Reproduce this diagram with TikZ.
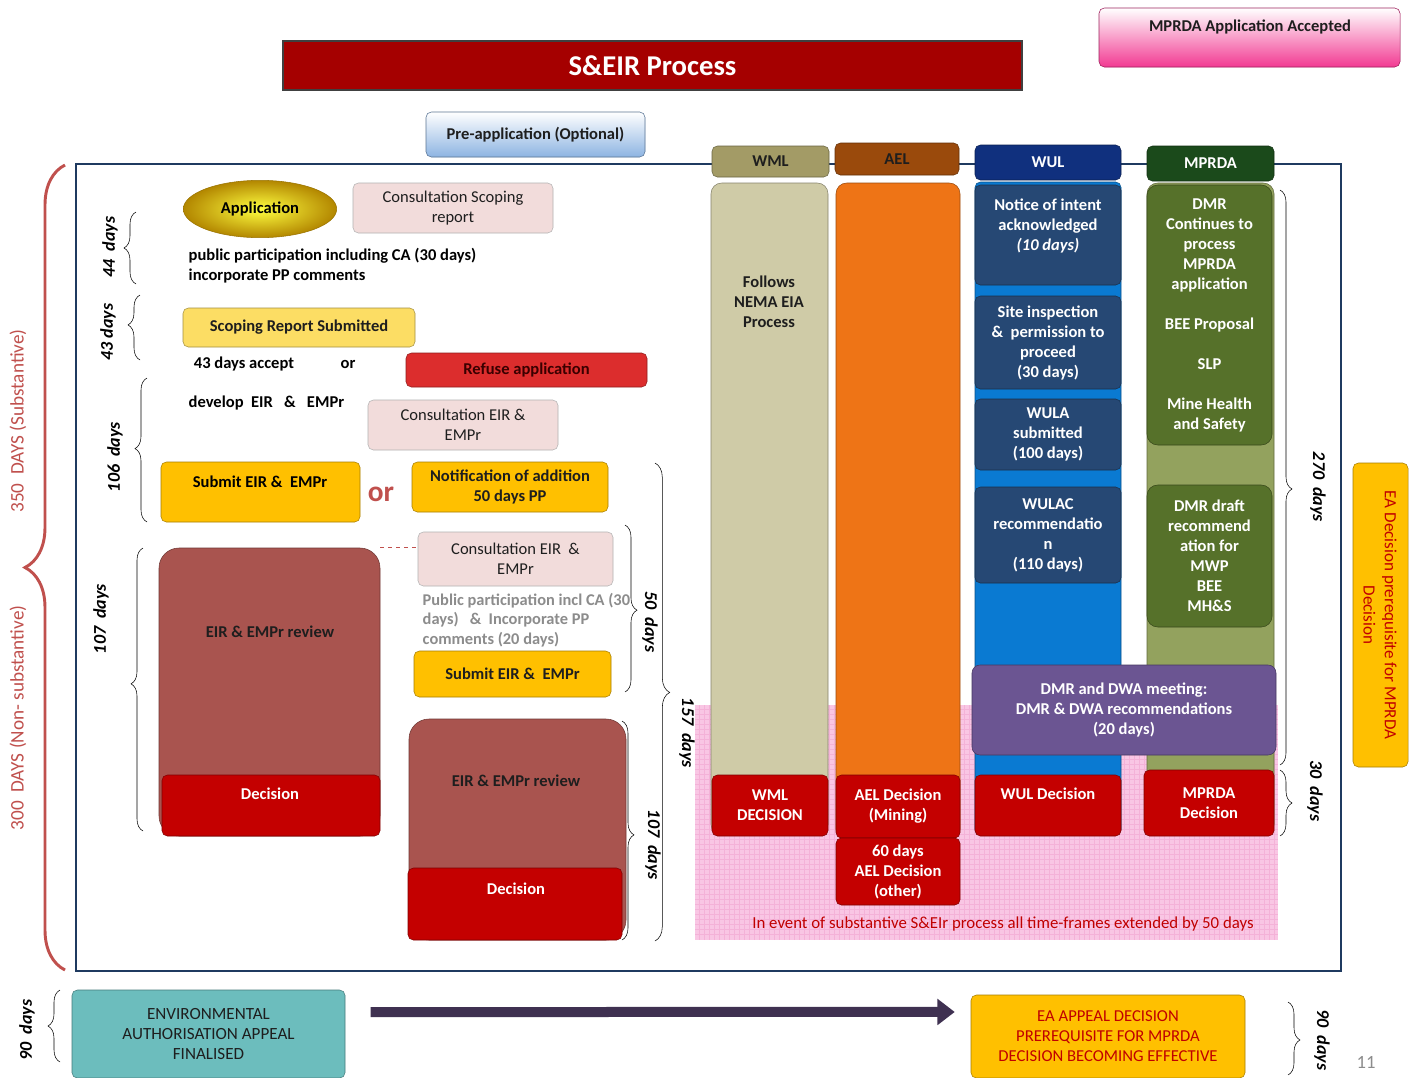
\documentclass[tikz,border=0pt]{standalone}
\usepackage{fontspec}
\setmainfont{Carlito}
\usetikzlibrary{shapes.geometric,decorations.pathreplacing,arrows.meta}

\definecolor{cTitle}{HTML}{A50000}
\definecolor{cAccept}{HTML}{F23A92}
\definecolor{cPre}{HTML}{8DB4E2}
\definecolor{cDec}{HTML}{C40000}
\definecolor{cRefuse}{HTML}{DC2D2D}
\definecolor{cRefTxt}{HTML}{3A0000}
\definecolor{cGold}{HTML}{FFC000}
\definecolor{cYel}{HTML}{FCDD64}
\definecolor{cPinkBox}{HTML}{F2DCDB}
\definecolor{cReview}{HTML}{A9544F}
\definecolor{cWmlH}{HTML}{A39B66}
\definecolor{cWmlB}{HTML}{CFCBA7}
\definecolor{cAelH}{HTML}{9A4A0C}
\definecolor{cAelB}{HTML}{EE7416}
\definecolor{cWulH}{HTML}{10307E}
\definecolor{cWulS}{HTML}{0A7AD2}
\definecolor{cWulB}{HTML}{264874}
\definecolor{cMprH}{HTML}{1B4A1B}
\definecolor{cMprS}{HTML}{93A25E}
\definecolor{cMprB}{HTML}{56712A}
\definecolor{cPurple}{HTML}{6B5592}
\definecolor{cGrid}{HTML}{F9C6E4}
\definecolor{cGridLine}{HTML}{F4B2D8}
\definecolor{cTeal}{HTML}{6CBDBD}
\definecolor{cFrame}{HTML}{1F3A60}
\definecolor{cBrace}{HTML}{C0504D}
\definecolor{cArrow}{HTML}{3F3151}
\definecolor{cRedTxt}{HTML}{C00000}
\definecolor{cDark}{HTML}{1E1E1E}

\newcommand\fs{\fontsize{12.4}{15}\selectfont}
\newcommand\daysfont{\fontsize{13.5}{15}\selectfont\bfseries\itshape}

\tikzset{
  span/.style n args={4}{at={({(#1+#3)/2},{(#2+#4)/2})},
    minimum width={(#3-#1)*0.75pt}, minimum height={(#4-#2)*0.75pt}},
  slab/.style={draw=#1!65!black, fill=#1, rounded corners=4pt, inner sep=0pt,
    align=center, text=cDark, font=\fs\bfseries},
  decbox/.style={slab=cDec, text=white},
  wulbox/.style={slab=cWulB, text=white},
  mprbox/.style={slab=cMprB, text=white, rounded corners=8pt},
  dayl/.style={font=\daysfont, rotate=90},
  dayr/.style={font=\daysfont, rotate=-90},
  daybrace/.style={decorate, decoration={brace, amplitude=9pt, aspect=#1}, black, thin},
  daybrace/.default=0.5,
  redlbl/.style={text=cBrace, font=\fontsize{14.4}{16}\selectfont, rotate=90}
}

\begin{document}
\begin{tikzpicture}[x=0.75pt,y=-0.75pt, every node/.append style={font=\fs}]
  \fill[white] (0,0) rectangle (1410,1078);
  \useasboundingbox (0,0) rectangle (1410,1078);

  % top banners
  \node[slab=cTitle, draw=black!75, line width=1.5pt, rounded corners=0pt, text=white,
    font=\fontsize{21.5}{23}\selectfont\bfseries, span={283}{41}{1022}{90}] (title) {S\&EIR Process};
  \node[slab=cAccept, top color=white, bottom color=cAccept, span={1099}{8}{1400}{67}] (accept) {};
  \node[font=\fs\bfseries, text=cDark] (acceptt) at (1250,27) {MPRDA Application Accepted};
  \node[slab=cPre, top color=white, bottom color=cPre, span={426}{112}{645}{157}] (preapp) {Pre-application (Optional)};

  % outer frame and left brace
  \draw[cFrame, line width=2.2pt] (76,164) rectangle (1341,971);
  \draw[cBrace, line width=2.2pt, decorate, decoration={brace, amplitude=30pt}] (65,970) -- (65,165);
  \node[redlbl] (subst) at (18,421) {350\ \ DAYS (Substantive)};
  \node[redlbl] (nonsub) at (18,718) {300\ \ DAYS (Non- substantive)};

  % pink zone
  \fill[cGrid] (695,705) rectangle (1278,940);
  \foreach \gx in {699,704,...,1275} \draw[cGridLine, line width=0.3pt] (\gx,705) -- (\gx,940);
  \foreach \gy in {709,714,...,937} \draw[cGridLine, line width=0.3pt] (695,\gy) -- (1278,\gy);
  \node[text=cRedTxt, font=\fontsize{12.6}{15}\selectfont] (extnote) at (1003,924)
    {In event of substantive S\&EIr process all time-frames extended by 50 days};

  % WML
  \node[slab=cWmlB, rounded corners=8pt, span={711}{183}{828}{835}] (wmlcol) {};
  \node[font=\fs\bfseries, align=center, text=cDark] (wmltxt) at (769,302) {Follows\\NEMA EIA\\Process};
  \node[decbox, span={712}{775}{828}{836}] (wmldec) {WML\\DECISION};
  \node[slab=cWmlH, span={712}{146}{829}{177}] (wml) {WML};

  % AEL
  \node[slab=cAelB, rounded corners=8pt, span={836}{183}{960}{840}] (aelcol) {};
  \node[decbox, span={836}{775}{960}{838}] (aeldec) {AEL Decision\\(Mining)};
  \node[decbox, span={836}{838}{960}{905}] (aeloth) {60 days\\AEL Decision\\(other)};
  \node[slab=cAelH, span={835}{143}{959}{175}] (ael) {AEL};

  % WUL
  \node[slab=cWulS, span={975}{182}{1121}{835}] (wulcol) {};
  \foreach \n/\ya/\yb/\t in {1/185/285/{Notice of intent\\acknowledged\\\textit{(10 days)}\\~},
      2/296/389/{Site inspection\\\&\ \ permission to\\proceed\\(30 days)},
      3/399/470/{WULA\\submitted\\(100 days)},
      4/487/583/{WULAC\\recommendatio\\n\\(110 days)}}
    \node[wulbox, span={975}{\ya}{1121}{\yb}] (wul\n) {\t};
  \node[decbox, span={975}{775}{1121}{836}] (wuldec) {WUL Decision\\[3pt]~};
  \node[slab=cWulH, text=white, span={975}{145}{1121}{180}] (wul) {WUL};

  % MPRDA
  \node[slab=cMprS, rounded corners=8pt, span={1147}{183}{1274}{835}] (mprcol) {};
  \node[mprbox, span={1147}{185}{1272}{445}] (mpr1)
    {DMR\\Continues to\\process\\MPRDA\\application\\[15pt]BEE Proposal\\[15pt]SLP\\[15pt]Mine Health\\and Safety};
  \node[mprbox, span={1147}{485}{1272}{627}] (mpr2) {DMR draft\\recommend\\ation for\\MWP\\BEE\\MH\&S};
  \node[decbox, span={1144}{770}{1274}{836}] (mprdec) {MPRDA\\Decision};
  \node[slab=cMprH, text=white, span={1147}{146}{1274}{181}] (mprda) {MPRDA};

  \node[slab=cPurple, text=white, rounded corners=6pt, span={972}{665}{1276}{755}] (meet)
    {DMR and DWA meeting:\\DMR \& DWA recommendations\\(20 days)};

  % EA decision side box
  \node[slab=cGold, span={1353}{463}{1408}{767}] (eadec) {};
  \node[rotate=-90, align=center, text=cRedTxt, font=\fontsize{12.8}{16}\selectfont] (eadect) at (1380,615)
    {EA Decision prerequisite for MPRDA\\Decision};

  % scoping phase
  \node[ellipse, inner sep=0pt, minimum width=115pt, minimum height=43pt, draw=cGold!60!black,
    inner color=yellow!75!white, outer color=cGold!70!black, font=\fs\bfseries] (app) at (260,209) {Application};
  \node[slab=cPinkBox, draw=black!30, font=\fs, span={353}{183}{553}{233}] (cscope) {Consultation Scoping\\report};
  \node[anchor=west, align=left, font=\fs\bfseries] (pp1) at (184,266)
    {public participation including CA (30 days)\\incorporate PP comments};
  \node[slab=cYel, span={183}{308}{415}{347}] (scsub) {Scoping Report Submitted};
  \node[font=\fs\bfseries] (accept43) at (244,364) {43 days accept};
  \node[font=\fs\bfseries] (or1) at (348,364) {or};
  \node[slab=cRefuse, text=cRefTxt, span={406}{353}{647}{387}] (refuse) {Refuse application};
  \node[anchor=west, font=\fs\bfseries] (devel) at (184,403) {develop\ \ EIR\ \ \ \&\ \ \ EMPr};
  \node[slab=cPinkBox, draw=black!30, font=\fs, span={368}{400}{558}{450}] (ceir1) {Consultation EIR \&\\EMPr};
  \node[slab=cGold, span={161}{462}{360}{522}] (subeir1) {};
  \node[font=\fs\bfseries] (subeir1t) at (260,482) {Submit EIR \&\ \ EMPr};
  \node[text=cBrace, font=\fontsize{22}{22}\selectfont\bfseries] (orbig) at (381,494) {or};
  \node[slab=cGold, span={412}{462}{608}{512}] (notif) {Notification of addition\\50 days PP};

  % review (non-substantive)
  \node[slab=cReview, rounded corners=15pt, span={159}{548}{380}{836}] (rev1) {};
  \node[font=\fs\bfseries, text=cDark] (rev1t) at (270,632) {EIR \& EMPr review};
  \node[decbox, span={162}{775}{380}{836}] (dec1) {};
  \node[font=\fs\bfseries, text=white] (dec1t) at (270,794) {Decision};

  % substantive extension
  \node[slab=cPinkBox, draw=black!30, font=\fs, span={418}{532}{613}{586}] (ceir2) {Consultation EIR\ \ \&\\EMPr};
  \draw[cBrace, dashed] (rev1.north east) -- (rev1.north east -| ceir2.west);
  \node[anchor=west, align=left, text=black!45, font=\fontsize{12.3}{14.6}\selectfont\bfseries] (pp2) at (418,620)
    {Public participation incl CA (30\\days)\ \ \ \&\ \ Incorporate PP\\comments (20 days)};
  \node[slab=cGold, span={414}{651}{611}{697}] (subeir2) {Submit EIR \&\ \ EMPr};
  \node[slab=cReview, rounded corners=15pt, span={409}{719}{626}{940}] (rev2) {};
  \node[font=\fs\bfseries, text=cDark] (rev2t) at (516,781) {EIR \& EMPr review};
  \node[decbox, span={408}{868}{622}{940}] (dec2) {};
  \node[font=\fs\bfseries, text=white] (dec2t) at (516,889) {Decision};

  % day braces
  \draw[daybrace] (136,284) -- (136,212);
  \node[dayl] (d44) at (110,247) {44\ \ days};
  \draw[daybrace=0.54] (140,360) -- (140,295);
  \node[dayl] (d43) at (108,332) {43 days};
  \draw[daybrace=0.51] (147,522) -- (147,378);
  \node[dayl] (d106) at (115,457) {106\ \ days};
  \draw[daybrace=0.52] (143,831) -- (143,548);
  \node[dayl] (d107a) at (101,619) {107\ \ days};
  \draw[daybrace=0.51] (625,525) -- (625,692);
  \node[dayr] (d50) at (650,622) {50\ \ days};
  \draw[daybrace=0.48, decoration={amplitude=11pt}] (655,463) -- (655,941);
  \node[dayr] (d157) at (687,733) {157\ \ days};
  \draw[daybrace=0.52] (622,721) -- (622,940);
  \node[dayr] (d107b) at (653,845) {107\ \ days};
  \draw[daybrace=0.52] (1280,190) -- (1280,765);
  \node[dayr] (d270) at (1318,487) {270\ \ days};
  \draw[daybrace] (1280,770) -- (1280,836);
  \node[dayr] (d30) at (1315,791) {30\ \ days};

  % appeal row
  \draw[daybrace=0.5] (60,1062) -- (60,990);
  \node[dayl] (d90a) at (27,1030) {90\ \ days};
  \node[slab=cTeal, font=\fontsize{12.8}{15}\selectfont, span={72}{990}{345}{1078}] (appeal)
    {ENVIRONMENTAL\\AUTHORISATION APPEAL\\FINALISED};
  \node[slab=cGold, text=cRedTxt, font=\fontsize{12.5}{15}\selectfont, span={971}{995}{1245}{1078}] (eaappeal)
    {EA APPEAL DECISION\\PREREQUISITE FOR MPRDA\\DECISION BECOMING EFFECTIVE};
  \draw[cArrow, line width=7.5pt, -{Triangle[length=13pt, width=19pt]}]
    ([xshift=19pt, yshift=16.5pt]appeal.east) -- ([xshift=-12pt, yshift=18.4pt]eaappeal.west);
  \draw[daybrace=0.52] (1288,1002) -- (1288,1075);
  \node[dayr] (d90b) at (1322,1040) {90\ \ days};
  \node[text=black!45, font=\fontsize{14}{14}\selectfont] (pgno) at (1366,1062) {11};
\end{tikzpicture}
\end{document}
